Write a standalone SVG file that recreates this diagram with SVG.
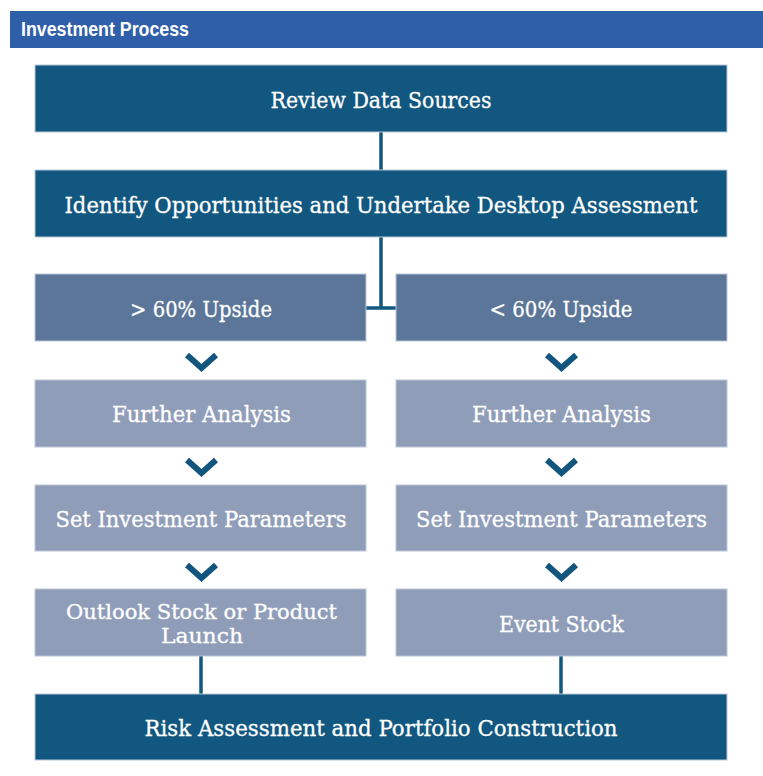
<svg xmlns="http://www.w3.org/2000/svg" width="763" height="776" viewBox="0 0 763 776">
  <defs>
    <style>
      .hdr { fill: #2e5fa8; }
      .hdr-t { font-family: "Liberation Sans Narrow", "Liberation Sans", Arial, sans-serif; font-weight: bold; font-size: 20px; fill: #ffffff; }
      .box { stroke: #b9c8d8; stroke-width: 1; }
      .dark { fill: #11577f; }
      .mid { fill: #5b7699; }
      .light { fill: #8f9db9; }
      .lbl { font-family: "DejaVu Serif", "Liberation Serif", serif; font-size: 22px; fill: #ffffff; stroke: #ffffff; stroke-width: 0.3; text-anchor: middle; }
      .lbl2 { font-size: 20px; }
      .link { stroke: #11577f; stroke-width: 3.5; fill: none; }
      .chev { stroke: #12557e; stroke-width: 6; fill: none; stroke-linejoin: miter; }
    </style>
  </defs>

  <rect width="763" height="776" fill="#ffffff"/>

  <!-- title bar -->
  <g id="title">
    <rect class="hdr" x="10" y="11" width="753" height="37"/>
    <text class="hdr-t" x="21" y="36" textLength="168" lengthAdjust="spacingAndGlyphs">Investment Process</text>
  </g>

  <!-- connectors -->
  <g id="connectors">
    <line class="link" x1="381" y1="132" x2="381" y2="170"/>
    <polyline class="link" points="381,237 381,308"/>
    <line class="link" x1="366" y1="308" x2="396" y2="308"/>
    <line class="link" x1="201" y1="656" x2="201" y2="694"/>
    <line class="link" x1="561" y1="656" x2="561" y2="694"/>
    <!-- chevrons between stacked steps -->
    <polyline class="chev" points="187,355 201.5,368 216,355"/>
    <polyline class="chev" points="547,355 561.5,368 576,355"/>
    <polyline class="chev" points="187,460 201.5,473 216,460"/>
    <polyline class="chev" points="547,460 561.5,473 576,460"/>
    <polyline class="chev" points="187,565 201.5,578 216,565"/>
    <polyline class="chev" points="547,565 561.5,578 576,565"/>
  </g>

  <g id="review">
    <rect class="box dark" x="35" y="65" width="692" height="67"/>
    <text class="lbl" x="381" y="108" textLength="221" lengthAdjust="spacingAndGlyphs">Review Data Sources</text>
  </g>

  <g id="identify">
    <rect class="box dark" x="35" y="170" width="692" height="67"/>
    <text class="lbl" x="381" y="213" textLength="633" lengthAdjust="spacingAndGlyphs">Identify Opportunities and Undertake Desktop Assessment</text>
  </g>

  <g id="upside-high">
    <rect class="box mid" x="35" y="274" width="331" height="67"/>
    <text class="lbl" x="201" y="317" textLength="142" lengthAdjust="spacingAndGlyphs">&gt; 60% Upside</text>
  </g>

  <g id="upside-low">
    <rect class="box mid" x="396" y="274" width="331" height="67"/>
    <text class="lbl" x="561" y="317" textLength="143" lengthAdjust="spacingAndGlyphs">&lt; 60% Upside</text>
  </g>

  <g id="analysis-left">
    <rect class="box light" x="35" y="380" width="331" height="67"/>
    <text class="lbl" x="201.5" y="422" textLength="179" lengthAdjust="spacingAndGlyphs">Further Analysis</text>
  </g>

  <g id="analysis-right">
    <rect class="box light" x="396" y="380" width="331" height="67"/>
    <text class="lbl" x="561.5" y="422" textLength="179" lengthAdjust="spacingAndGlyphs">Further Analysis</text>
  </g>

  <g id="params-left">
    <rect class="box light" x="35" y="485" width="331" height="66"/>
    <text class="lbl" x="201" y="527" textLength="291" lengthAdjust="spacingAndGlyphs">Set Investment Parameters</text>
  </g>

  <g id="params-right">
    <rect class="box light" x="396" y="485" width="331" height="66"/>
    <text class="lbl" x="561.5" y="527" textLength="291" lengthAdjust="spacingAndGlyphs">Set Investment Parameters</text>
  </g>

  <g id="outlook">
    <rect class="box light" x="35" y="589" width="331" height="67"/>
    <text class="lbl lbl2" x="201.5" y="619" textLength="271" lengthAdjust="spacingAndGlyphs">Outlook Stock or Product</text>
    <text class="lbl lbl2" x="202" y="643" textLength="82" lengthAdjust="spacingAndGlyphs">Launch</text>
  </g>

  <g id="event">
    <rect class="box light" x="396" y="589" width="331" height="67"/>
    <text class="lbl" x="561.5" y="632" textLength="125" lengthAdjust="spacingAndGlyphs">Event Stock</text>
  </g>

  <g id="risk">
    <rect class="box dark" x="35" y="694" width="692" height="66"/>
    <text class="lbl" x="381" y="736" textLength="473" lengthAdjust="spacingAndGlyphs">Risk Assessment and Portfolio Construction</text>
  </g>
</svg>
